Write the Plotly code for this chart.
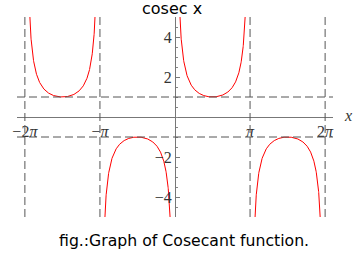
import numpy as np
import plotly.graph_objects as go

PI = np.pi
title_text = "cosec x"
caption_text = "fig.:Graph of Cosecant function."
# branches of cosec x between consecutive asymptotes
branch_bounds = [(-2 * PI, -PI), (-PI, 0.0), (0.0, PI), (PI, 2 * PI)]
asymptotes = [-2 * PI, -PI, PI, 2 * PI]
guide_levels = [1, -1]
x_tick_vals = [-2 * PI, -PI, PI, 2 * PI]
x_tick_text = ["\u22122<i>\u03c0</i>", "\u2212<i>\u03c0</i>", "<i>\u03c0</i>", "2<i>\u03c0</i>"]
y_tick_vals = [-4, -2, 2, 4]
y_tick_text = ["\u22124", "\u22122", "2", "4"]
x_range = [-6.613, 6.613]
y_range = [-5, 5]

fig = go.Figure()
for a, b in branch_bounds:
    xs = np.linspace(a + 0.001, b - 0.001, 800)
    ys = 1.0 / np.sin(xs)
    mask = np.abs(ys) <= 6
    fig.add_trace(go.Scatter(x=xs[mask], y=ys[mask], mode="lines",
                             line=dict(color="#ff0000", width=1),
                             showlegend=False, hoverinfo="skip"))

dash_col = "#555555"
for xv in asymptotes:
    fig.add_shape(type="line", xref="x", yref="y", x0=xv, x1=xv, y0=y_range[0], y1=y_range[1],
                  line=dict(color=dash_col, width=1, dash="8px,4px"))
for yv in guide_levels:
    fig.add_shape(type="line", xref="paper", yref="y", x0=0, x1=1, y0=yv, y1=yv,
                  line=dict(color=dash_col, width=1, dash="8px,4px"))

tick_font = dict(family="Liberation Serif", size=16, color="#333333")
fig.update_layout(
    width=358, height=258,
    margin=dict(l=12, r=25, t=17, b=41),
    paper_bgcolor="white", plot_bgcolor="white",
    xaxis=dict(range=x_range, anchor="free", position=0.5,
               showgrid=False, zeroline=False, showline=True,
               linecolor="#777777", linewidth=1,
               tickmode="array", tickvals=x_tick_vals, ticktext=x_tick_text,
               ticks="", tickfont=tick_font),
    yaxis=dict(range=y_range, anchor="free", position=(0 - x_range[0]) / (x_range[1] - x_range[0]),
               showgrid=False, zeroline=False, showline=True,
               linecolor="#777777", linewidth=1,
               tickmode="array", tickvals=y_tick_vals, ticktext=y_tick_text,
               ticks="inside", ticklen=4, tickcolor="#777777",
               minor=dict(tickmode="linear", tick0=0, dtick=0.5, ticks="inside",
                          ticklen=2, tickcolor="#888888"),
               tickfont=tick_font),
    annotations=[
        dict(text=title_text, xref="paper", yref="paper", x=0.49, y=1.045,
             xanchor="center", yanchor="middle", showarrow=False,
             font=dict(family="DejaVu Sans", size=16, color="#000000")),
        dict(text=caption_text, xref="paper", yref="paper", x=0.528, y=-0.115,
             xanchor="center", yanchor="middle", showarrow=False,
             font=dict(family="DejaVu Sans", size=15.7, color="#000000")),
        dict(text="<i>x</i>", xref="paper", yref="paper", x=1.047, y=0.51,
             xanchor="center", yanchor="middle", showarrow=False,
             font=dict(family="Liberation Serif", size=16, color="#333333")),
    ],
)

fig.write_html("out.html")
